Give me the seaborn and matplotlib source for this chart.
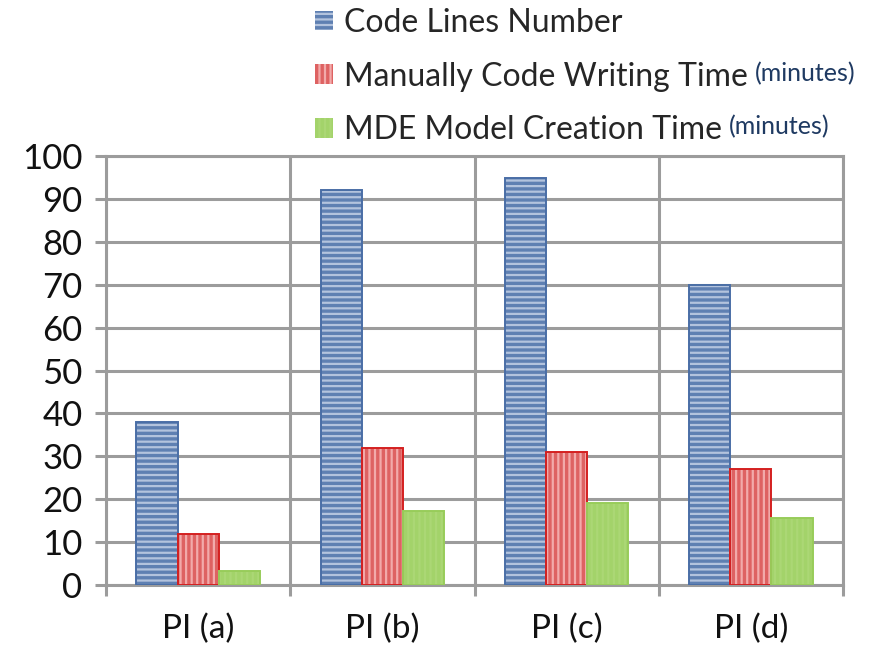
import matplotlib
matplotlib.use("Agg")
import matplotlib.pyplot as plt
from matplotlib.patches import Patch, Rectangle
import seaborn as sns
import pandas as pd

# ---- data ----
cases = ["PI (a)", "PI (b)", "PI (c)", "PI (d)"]
series = ["Code Lines Number", "Manually Code Writing Time", "MDE Model Creation Time"]
code_lines = [38, 92, 95, 70]
manual_time = [12, 32, 31, 27]
mde_time = [3.3, 17.2, 19.2, 15.6]
unit_suffix = ["", "(minutes)", "(minutes)"]
y_ticks = list(range(0, 101, 10))

df = pd.DataFrame({
    "case": cases * 3,
    "series": [series[0]] * 4 + [series[1]] * 4 + [series[2]] * 4,
    "value": code_lines + manual_time + mde_time,
})

# ---- styling ----
sns.set_theme(style="white")
plt.rcParams["font.family"] = ["Lato", "DejaVu Sans"]
plt.rcParams["hatch.linewidth"] = 1.6

styles = [
    dict(fill="#5f80b2", stripe="#b3c3dd", edge="#4a6ea6", hatch="---"),
    dict(fill="#de6262", stripe="#f2aaaa", edge="#d42020", hatch="|||"),
    dict(fill="#a3d36a", stripe="#abd775", edge="#98cc5a", hatch="|||"),
]
grid_col = "#9c9c9c"
grid_lw = 2.2

fig = plt.figure(figsize=(8.8, 6.59), dpi=100)
ax = fig.add_axes([0.1205, 0.1123, 0.8375, 0.6507])

sns.barplot(data=df, x="case", y="value", hue="series", order=cases,
            hue_order=series, palette=[s["fill"] for s in styles],
            width=0.67, ax=ax, legend=False, saturation=1)

for cont, st in zip(ax.containers, styles):
    for bar in cont:
        bar.set_facecolor(st["fill"])
        bar.set_edgecolor(st["stripe"])
        bar.set_hatch(st["hatch"])
        bar.set_linewidth(0)
        bar.set_zorder(3)
        ax.add_patch(Rectangle(bar.get_xy(), bar.get_width(), bar.get_height(),
                               fill=False, edgecolor=st["edge"], linewidth=1.4,
                               zorder=4))

ax.set_xlim(-0.5, len(cases) - 0.5)
ax.set_ylim(0, 100)
ax.set_yticks(y_ticks)
ax.set_xticks(range(len(cases)))
ax.set_xticklabels(cases)
ax.set_xticks([i - 0.5 for i in range(len(cases) + 1)], minor=True)
ax.set_xlabel("")
ax.set_ylabel("")

ax.set_axisbelow(True)
ax.grid(axis="y", which="major", color=grid_col, linewidth=grid_lw)
ax.grid(axis="x", which="minor", color=grid_col, linewidth=grid_lw)
ax.grid(axis="x", which="major", visible=False)
for side in ["left", "right", "bottom", "top"]:
    ax.spines[side].set_visible(True)
    ax.spines[side].set_color(grid_col)
    ax.spines[side].set_linewidth(grid_lw)

ax.tick_params(axis="y", which="major", direction="out", length=8, width=grid_lw,
               color=grid_col, labelsize=25, pad=9, left=True, labelcolor="#111111")
ax.tick_params(axis="x", which="major", length=0, labelsize=24, pad=21,
               labelcolor="#111111")
ax.tick_params(axis="x", which="minor", direction="out", length=8, width=grid_lw,
               color=grid_col, bottom=True)

# ---- legend ----
handles = [Patch(facecolor=st["fill"], edgecolor=st["stripe"], hatch=st["hatch"],
                 linewidth=0) for st in styles]
leg = fig.legend(handles, series, loc="upper left", bbox_to_anchor=(0.333, 1.022),
                 frameon=False, fontsize=23, handlelength=0.56, handleheight=0.56,
                 handletextpad=0.33, labelspacing=0.74, borderpad=0.2)
for h, st in zip(leg.legend_handles, styles):
    h.set_edgecolor(st["stripe"])

fig.canvas.draw()
renderer = fig.canvas.get_renderer()
inv = fig.transFigure.inverted()
for txt, suffix in zip(leg.get_texts(), unit_suffix):
    if not suffix:
        continue
    bb = txt.get_window_extent(renderer)
    x0, yc = inv.transform((bb.x1 + 7, (bb.y0 + bb.y1) / 2 + 3))
    fig.text(x0, yc, suffix, fontsize=18, color="#1f3a62", va="center", ha="left")

fig.savefig("out.png", dpi=100)
